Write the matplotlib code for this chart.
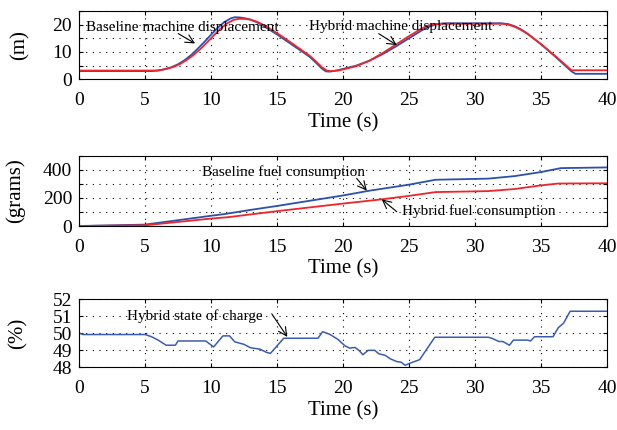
import numpy as np
import matplotlib
matplotlib.use('Agg')
import matplotlib.pyplot as plt

plt.rcParams['font.family'] = ['Liberation Serif', 'DejaVu Serif']

BLUE = '#2c50b0'
RED = '#f0242a'

# machine displacement (m)
base_disp_t = [0, 5.5, 6, 6.5, 7, 7.5, 8, 8.5, 9, 9.5, 10, 10.5, 11, 11.5, 11.8,
               12.2, 12.6, 13, 13.5, 14, 15, 16, 17, 17.5, 18, 18.4, 18.7, 19,
               19.5, 20, 21, 22, 23, 24, 25, 26, 26.5, 27, 27.5, 28, 32, 32.5,
               33, 33.5, 34, 35, 36, 36.5, 37, 37.3, 37.6, 40]
base_disp = [3.0, 3.0, 3.2, 3.7, 4.4, 5.5, 7.0, 8.9, 11.2, 13.7, 16.3, 18.8, 20.9,
             22.3, 22.7, 22.6, 22.3, 21.8, 20.8, 19.4, 16.4, 13.1, 9.8, 8.1, 5.8,
             3.9, 2.9, 2.8, 3.2, 3.8, 5.0, 6.8, 9.2, 12.0, 15.0, 18.0, 19.2, 20.0,
             20.4, 20.5, 20.5, 20.2, 19.4, 18.2, 16.6, 12.8, 8.6, 6.4, 4.2, 2.9,
             2.0, 2.0]
hyb_disp_t = [0, 5.8, 6.2, 6.7, 7.2, 7.7, 8.2, 8.7, 9.2, 9.7, 10.2, 10.7, 11.2,
              11.7, 12.1, 12.5, 13, 13.5, 14, 15, 16, 17, 17.5, 18, 18.4, 18.8,
              19.2, 19.7, 20, 21, 22, 23, 24, 25, 26, 26.5, 27, 27.5, 32, 32.5,
              33, 33.5, 34, 35, 36, 36.5, 37, 37.3, 40]
hyb_disp = [3.2, 3.2, 3.4, 3.9, 4.6, 5.7, 7.2, 9.0, 11.1, 13.5, 16.0, 18.4, 20.4,
            21.7, 22.1, 22.1, 21.8, 21.0, 19.8, 16.9, 13.6, 10.2, 8.5, 6.3, 4.4,
            3.1, 3.0, 3.3, 3.6, 4.8, 6.8, 9.6, 12.7, 15.8, 18.7, 19.7, 20.2, 20.3,
            20.3, 20.0, 19.2, 18.0, 16.5, 12.8, 8.8, 6.7, 4.6, 3.3, 3.3]

# fuel consumption (grams)
base_fuel_t = [0, 5, 10, 11, 13, 15, 20, 22, 25, 27, 31, 33, 35, 36.5, 40]
base_fuel = [0, 10, 73, 85, 115, 143, 218, 252, 295, 330, 338, 356, 385, 413, 418]
hyb_fuel_t = [0, 5, 10, 11.3, 15, 20, 23, 25, 27, 31, 33, 35, 36.3, 40]
hyb_fuel = [0, 5, 53, 63, 106, 160, 191, 215, 242, 249, 264, 290, 303, 305]

# hybrid state of charge (%)
soc_t = [0, 0.3, 5, 5.5, 6, 6.6, 7.3, 7.5, 9.6, 10.2, 10.9, 11.4, 11.8, 12.5,
         13.0, 13.7, 14.2, 14.5, 15.0, 15.5, 18.1, 18.45, 19.0, 19.6, 20.15,
         20.5, 20.9, 21.2, 21.5, 21.9, 22.4, 22.7, 23.2, 23.6, 24.1, 24.4, 24.7,
         25.1, 25.8, 26.95, 31.0, 31.3, 31.8, 32.1, 32.6, 32.9, 34.0, 34.2, 34.5,
         35.9, 36.3, 36.7, 37.2, 40]
soc = [50.02, 49.93, 49.93, 49.8, 49.6, 49.3, 49.3, 49.55, 49.55, 49.2, 49.85,
       49.85, 49.5, 49.35, 49.15, 49.07, 48.88, 48.82, 49.26, 49.71, 49.71, 50.1,
       49.94, 49.65, 49.26, 49.13, 49.17, 49.0, 48.74, 49.0, 49.0, 48.8, 48.7,
       48.49, 48.33, 48.3, 48.12, 48.25, 48.45, 49.77, 49.77, 49.7, 49.52, 49.52,
       49.3, 49.6, 49.6, 49.55, 49.8, 49.8, 50.33, 50.6, 51.3, 51.3]


def style_axes(ax, yticks, ylabels, ylabel, ylabel_x):
    ax.set_xlim(0, 40)
    ax.set_ylim(yticks[0], yticks[-1])
    ax.set_xticks(np.arange(0, 41, 5))
    ax.set_yticks(yticks)
    ax.set_yticklabels(ylabels)
    ax.tick_params(direction='in', top=True, right=True, labelsize=14,
                   length=3, width=0.8)
    ax.tick_params(axis='x', pad=9)
    ax.tick_params(axis='y', pad=5)
    ax.grid(True, color='black', linestyle=(0, (1, 5)), linewidth=0.8)
    for s in ax.spines.values():
        s.set_linewidth(0.8)
    ax.set_xlabel('Time (s)', fontsize=15, labelpad=3)
    ax.set_ylabel(ylabel, fontsize=15)
    ax.yaxis.set_label_coords(ylabel_x, 0.5)


fig = plt.figure(figsize=(6.17, 4.30), dpi=100)
arrow = dict(arrowstyle='->,head_length=0.6,head_width=0.3', color='black',
             lw=0.8, shrinkA=0, shrinkB=0)

ax1 = fig.add_axes([0.128, 0.8156, 0.856, 0.159])
ax1.plot(base_disp_t, base_disp, color=BLUE, lw=1.3)
ax1.plot(hyb_disp_t, hyb_disp, color=RED, lw=1.3)
style_axes(ax1, [0, 5, 10, 15, 20, 25], ['0', '', '10', '', '20', ''], '(m)',
           -0.093)
ax1.annotate('', xy=(8.79, 13.1), xytext=(7.52, 16.7), arrowprops=arrow)
ax1.annotate('', xy=(24.07, 12.5), xytext=(22.7, 16.7), arrowprops=arrow)
ax1.text(0.5, 17.6, 'Baseline machine displacement', fontsize=11, va='baseline')
ax1.text(17.4, 18.2, 'Hybrid machine displacement', fontsize=11, va='baseline')

ax2 = fig.add_axes([0.128, 0.4744, 0.856, 0.163])
ax2.plot(base_fuel_t, base_fuel, color=BLUE, lw=1.3)
ax2.plot(hyb_fuel_t, hyb_fuel, color=RED, lw=1.3)
style_axes(ax2, [0, 100, 200, 300, 400, 500], ['0', '', '200', '', '400', ''],
           '(grams)', -0.102)
ax2.annotate('', xy=(21.8, 252), xytext=(21.03, 340), arrowprops=arrow)
ax2.annotate('', xy=(22.93, 190), xytext=(24.07, 102), arrowprops=arrow)
ax2.text(9.3, 357, 'Baseline fuel consumption', fontsize=11, va='baseline')
ax2.text(24.45, 79, 'Hybrid fuel consumption', fontsize=11, va='baseline')

ax3 = fig.add_axes([0.128, 0.1458, 0.856, 0.158])
ax3.plot(soc_t, soc, color='#3a5cb0', lw=1.1)
style_axes(ax3, [48, 49, 50, 51, 52], ['48', '49', '50', '51', '52'], '(%)',
           -0.097)
ax3.annotate('', xy=(15.78, 49.79), xytext=(14.6, 51.15), arrowprops=arrow)
ax3.text(3.6, 50.81, 'Hybrid state of charge', fontsize=11, va='baseline')

fig.savefig('out.png', dpi=100)
